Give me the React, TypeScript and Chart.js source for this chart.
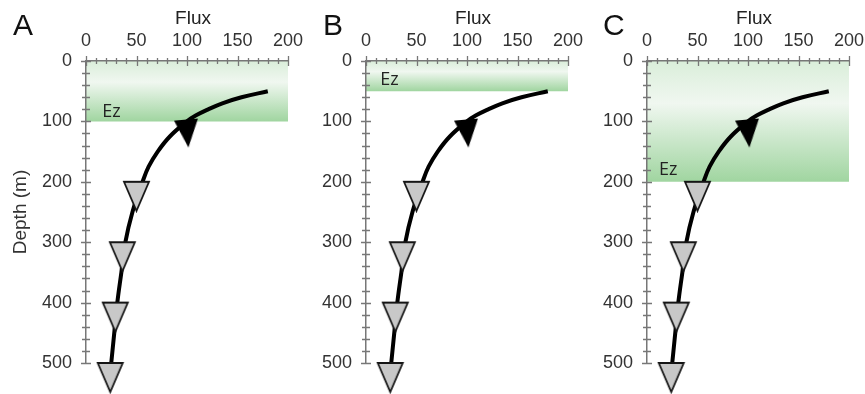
import React, { useEffect, useRef } from 'react';
import { Chart, registerables } from 'chart.js';
Chart.register(...registerables);

// ---- data ----
const xTicks = [0, 50, 100, 150, 200];
const yTicks = [0, 100, 200, 300, 400, 500];
const curveDepth = [50, 60, 70, 80, 90, 100, 125, 150, 175, 200, 250, 300, 350, 400, 450, 500];
const curveFlux = [180, 154, 135, 121, 109, 100, 83, 71, 62, 56, 46, 39, 35, 31, 28, 25];
const trapDepth = [200, 300, 400, 500];
const trapFlux = [50, 36, 29, 24];
const arrowDepth = [97];
const arrowFlux = [99];
const panelLetters = ['A', 'B', 'C'];
const ezDepth = [100, 50, 200];
const ezRight = [200, 207, 203];
const ezLabelFlux = [16, 14, 12];
const ezLabelDepth = [84, 31, 180];
const ezLabel = 'Ez';
const xTitle = 'Flux';
const yTitle = 'Depth (m)';

const panelLeft = [0, 280, 561];
const letterX = [13, 43, 42];
const CANVAS_W = 320;

const NUM_FONT = '"Liberation Sans", Arial, sans-serif';
const LBL_FONT = '"Open Sans", "Liberation Sans", sans-serif';

function makeTri(w: number, h: number, fill: string, stroke: string | null, lw: number) {
  const c = document.createElement('canvas');
  c.width = w + 4;
  c.height = 2 * h + 4;
  const g = c.getContext('2d')!;
  const cx = c.width / 2;
  const cy = c.height / 2;
  g.beginPath();
  g.moveTo(cx - w / 2, cy);
  g.lineTo(cx + w / 2, cy);
  g.lineTo(cx, cy + h);
  g.closePath();
  g.fillStyle = fill;
  g.fill();
  if (stroke && lw) {
    g.lineWidth = lw;
    g.strokeStyle = stroke;
    g.lineJoin = 'miter';
    g.stroke();
  }
  return c;
}

function Panel({ idx }: { idx: number }) {
  const ref = useRef<HTMLCanvasElement>(null);
  useEffect(() => {
    const canvas = ref.current!;
    const tri = makeTri(25, 29, '#c8c8c8', '#151515', 1.8);
    const arrow = makeTri(24, 28, '#000000', null, 0);

    const panelPlugin = {
      id: 'panelDecor' + idx,
      afterDatasetsDraw(chart: any) {
        const { ctx, scales } = chart;
        const xs = scales.x;
        const ys = scales.y;
        ctx.save();
        ctx.fillStyle = '#222';
        ctx.font = `18px ${LBL_FONT}`;
        ctx.textAlign = 'left';
        ctx.textBaseline = 'middle';
        ctx.fillText(ezLabel, xs.getPixelForValue(ezLabelFlux[idx]), ys.getPixelForValue(ezLabelDepth[idx]));
        ctx.restore();
      },
      afterDraw(chart: any) {
        const { ctx, scales, chartArea } = chart;
        const xs = scales.x;
        const ys = scales.y;
        ctx.save();
        ctx.strokeStyle = '#777';
        ctx.lineWidth = 1.3;
        ctx.beginPath();
        for (let v = xTicks[0]; v <= xTicks[xTicks.length - 1]; v += 10) {
          const px = Math.round(xs.getPixelForValue(v)) + 0.5;
          const L = xTicks.includes(v) ? 5 : 3;
          ctx.moveTo(px, chartArea.top - L);
          ctx.lineTo(px, chartArea.top + L);
        }
        for (let v = yTicks[0]; v <= yTicks[yTicks.length - 1]; v += 20) {
          const py = Math.round(ys.getPixelForValue(v)) + 0.5;
          const L = yTicks.includes(v) ? 5 : 4;
          ctx.moveTo(chartArea.left - L, py);
          ctx.lineTo(chartArea.left + L, py);
        }
        ctx.stroke();
        // axis title (top), slightly right of centre as in the reference
        ctx.fillStyle = '#222';
        ctx.font = `19px ${NUM_FONT}`;
        ctx.textAlign = 'center';
        ctx.textBaseline = 'middle';
        ctx.fillText(xTitle, (chartArea.left + chartArea.right) / 2 + 6, 19);
        // panel letter
        ctx.fillStyle = '#111';
        ctx.font = `30px ${NUM_FONT}`;
        ctx.textAlign = 'left';
        ctx.textBaseline = 'alphabetic';
        ctx.fillText(panelLetters[idx], letterX[idx], 35);
        ctx.restore();
      },
    };

    const ezGradient = (c: any) => {
      const chart = c.chart;
      const ys = chart.scales && chart.scales.y;
      const fallback = 'rgba(190,225,190,0.6)';
      if (!ys) return fallback;
      const a = ys.getPixelForValue(0);
      const b = ys.getPixelForValue(ezDepth[idx]);
      if (!isFinite(a) || !isFinite(b) || a === b) return fallback;
      const g = chart.ctx.createLinearGradient(0, a, 0, b);
      g.addColorStop(0, 'rgb(218,238,218)');
      g.addColorStop(0.35, 'rgb(240,247,240)');
      g.addColorStop(1, 'rgb(160,213,160)');
      return g;
    };

    const chart = new Chart(canvas, {
      type: 'scatter',
      data: {
        datasets: [
          {
            label: 'traps',
            data: trapFlux.map((x, i) => ({ x, y: trapDepth[i] })),
            pointStyle: tri as any,
            pointRadius: 12,
            clip: false as any,
            order: 0,
          },
          {
            label: 'arrow',
            data: arrowFlux.map((x, i) => ({ x, y: arrowDepth[i] })),
            pointStyle: arrow as any,
            rotation: -5,
            pointRadius: 12,
            clip: false as any,
            order: 1,
          },
          {
            label: 'flux',
            data: curveFlux.map((x, i) => ({ x, y: curveDepth[i] })),
            showLine: true,
            borderColor: '#000',
            borderWidth: 4,
            tension: 0.4,
            pointRadius: 0,
            order: 2,
          },
          {
            label: 'Ez',
            data: [
              { x: 0, y: ezDepth[idx] },
              { x: ezRight[idx], y: ezDepth[idx] },
            ],
            showLine: true,
            borderWidth: 0,
            borderColor: 'rgba(0,0,0,0)',
            pointRadius: 0,
            fill: { value: 0 } as any,
            backgroundColor: ezGradient as any,
            clip: false as any,
            order: 3,
          },
        ],
      },
      options: {
        responsive: false,
        animation: false,
        events: [],
        layout: { padding: { left: 0, top: 0, right: CANVAS_W - 288, bottom: 31 } },
        plugins: { legend: { display: false }, tooltip: { enabled: false } },
        scales: {
          x: {
            type: 'linear',
            position: 'top',
            min: 0,
            max: 200,
            afterBuildTicks: (s: any) => {
              s.ticks = xTicks.map((v) => ({ value: v }));
            },
            afterFit: (s: any) => {
              s.height = 61;
              s.paddingLeft = 0;
              s.paddingRight = 0;
            },
            ticks: { padding: 9, font: { family: NUM_FONT, size: 18 }, color: '#333' },
            grid: { display: false, drawTicks: false },
            border: { display: true, color: '#777', width: 1.5, z: 1 },
            title: { display: false, text: xTitle },
          },
          y: {
            type: 'linear',
            reverse: true,
            min: 0,
            max: 500,
            afterBuildTicks: (s: any) => {
              s.ticks = yTicks.map((v) => ({ value: v }));
            },
            afterFit: (s: any) => {
              s.width = 86;
              s.paddingTop = 0;
              s.paddingBottom = 0;
            },
            ticks: { padding: 14, font: { family: NUM_FONT, size: 18 }, color: '#333' },
            grid: { display: false, drawTicks: false },
            border: { display: true, color: '#777', width: 1.5, z: 1 },
            title: {
              display: idx === 0,
              text: yTitle,
              font: { family: NUM_FONT, size: 19 },
              color: '#333',
              padding: { top: 9, bottom: 0 },
            },
          },
        },
      },
      plugins: [panelPlugin],
    } as any);
    return () => chart.destroy();
  }, [idx]);

  return (
    <canvas
      ref={ref}
      width={CANVAS_W}
      height={394}
      style={{ position: 'absolute', left: panelLeft[idx], top: 0, width: CANVAS_W, height: 394, display: 'block' }}
    />
  );
}

export default function App() {
  return (
    <div style={{ position: 'absolute', left: 0, top: 0, width: 865, height: 394, background: '#fff', overflow: 'hidden' }}>
      <Panel idx={0} />
      <Panel idx={1} />
      <Panel idx={2} />
    </div>
  );
}
